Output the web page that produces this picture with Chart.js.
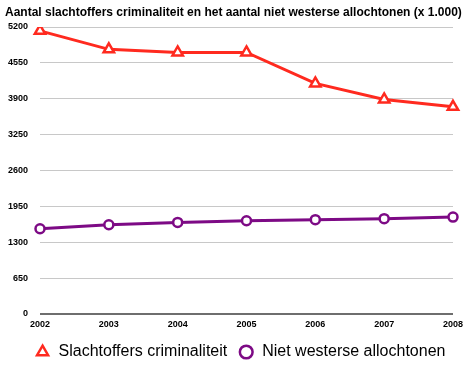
<!DOCTYPE html>
<html>
<head>
<meta charset="utf-8">
<script src="https://cdn.jsdelivr.net/npm/chart.js@4/dist/chart.umd.min.js"></script>
<style>
  html, body { margin: 0; padding: 0; background: #fff; }
  #wrap { width: 475px; height: 367px; }
</style>
</head>
<body>
<div id="wrap"><canvas id="grafiek"></canvas></div>
<script>
// Jaren op de x-as
const jaren = ['2002', '2003', '2004', '2005', '2006', '2007', '2008'];

const slachtoffers = [5130, 4795, 4740, 4740, 4178, 3887, 3753];
const allochtonen = [1545, 1618, 1660, 1690, 1709, 1727, 1756];

// Stappen op de y-as
const yStap = 650;
const yMax = 5200;

const rood = '#ff2a1f';
const paars = '#7d0a85';

const ctx = document.getElementById('grafiek').getContext('2d');
new Chart(ctx, {
    type: 'line',
    data: {
        labels: jaren,
        datasets: [{
            label: 'Slachtoffers criminaliteit',
            data: slachtoffers,
            borderColor: rood,
            backgroundColor: '#fff',
            borderWidth: 3,
            pointStyle: 'triangle',
            pointRadius: 6,
            pointBorderWidth: 2.5,
            pointBackgroundColor: '#fff',
            pointBorderColor: rood,
            tension: 0
        }, {
            label: 'Niet westerse allochtonen',
            data: allochtonen,
            borderColor: paars,
            backgroundColor: '#fff',
            borderWidth: 3,
            pointStyle: 'circle',
            pointRadius: 4.5,
            pointBorderWidth: 2.5,
            pointBackgroundColor: '#fff',
            pointBorderColor: paars,
            tension: 0
        }]
    },
    options: {
        responsive: true,
        maintainAspectRatio: false,
        animation: false,
        layout: { padding: { left: 5, right: 0, top: 0, bottom: -3 } },
        plugins: {
            title: {
                display: true,
                text: 'Aantal slachtoffers criminaliteit en het aantal niet westerse allochtonen (x 1.000)',
                align: 'start',
                color: '#000',
                font: { family: 'Liberation Sans', size: 12, weight: 'bold' },
                padding: { top: 5, bottom: 7.6 }
            },
            legend: {
                position: 'bottom',
                labels: {
                    usePointStyle: true,
                    color: '#000',
                    font: { family: 'Liberation Sans', size: 16 },
                    boxHeight: 9,
                    padding: 11
                }
            },
            tooltip: { enabled: false }
        },
        scales: {
            x: {
                afterFit: (scale) => { scale.height = 19; },
                grid: { display: false, drawTicks: false },
                border: { display: false },
                ticks: {
                    color: '#000',
                    font: { family: 'Liberation Sans', size: 9, weight: 'bold' },
                    padding: 5,
                    maxRotation: 0
                }
            },
            y: {
                min: 0,
                max: yMax,
                afterFit: (scale) => { scale.width = 35; },
                grid: {
                    drawTicks: false,
                    color: (c) => c.tick && c.tick.value === 0 ? '#6e6e6e' : '#c8c8c8',
                    lineWidth: (c) => c.tick && c.tick.value === 0 ? 2 : 1
                },
                border: { display: false },
                ticks: {
                    stepSize: yStap,
                    color: '#000',
                    padding: 12,
                    font: { family: 'Liberation Sans', size: 9, weight: 'bold' },
                    callback: (v) => String(v)
                }
            },
            rechts: {
                position: 'right',
                min: 0,
                max: yMax,
                afterFit: (scale) => { scale.width = 22; },
                grid: { display: false, drawTicks: false },
                border: { display: false },
                ticks: { display: false }
            }
        }
    }
});
</script>
</body>
</html>
